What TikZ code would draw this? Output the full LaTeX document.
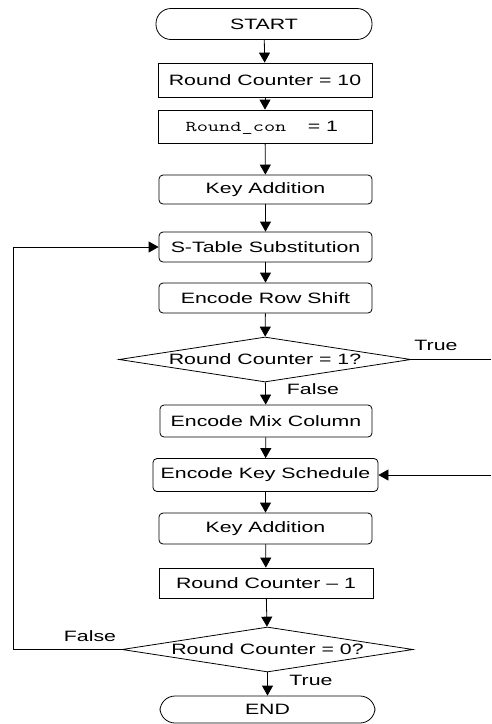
\documentclass[tikz,border=0pt]{standalone}
\usepackage{fontspec}
\setmainfont[FakeStretch=1.42]{Liberation Sans}
\usetikzlibrary{arrows.meta,shapes.geometric}

\tikzset{
  term/.style={draw, rounded corners=15pt, minimum width=216pt, minimum height=31pt},
  proc/.style={draw, minimum width=214pt, minimum height=31pt},
  procr/.style={draw, rounded corners=4pt, minimum width=213pt, minimum height=30pt},
  decis/.style={draw, diamond, aspect=6.5, inner sep=-1pt, minimum width=292pt, minimum height=45pt},
  codetext/.style={inner sep=0pt, xscale=1.45, transform shape, font=\ttfamily\fontsize{15}{18}\selectfont},
}

\begin{document}
\begin{tikzpicture}[x=1pt, y=-1pt, line width=0.8pt,
  every node/.style={font=\fontsize{15}{18}\selectfont, line width=0.8pt},
  >={Triangle[length=10pt, width=11pt]}]
	\useasboundingbox (0,0) rectangle (491,724);
	\node[term] (start) at (264,24) {START};
	\node[proc, minimum height=34pt] (rc10) at (265,80) {Round Counter = 10};
	\node[proc, minimum height=33pt] (rcon) at (265,126.5) {};
	\node[codetext, anchor=base] (rconname) at (236,131) {Round\_con};
	\node[anchor=base, inner sep=0pt] (rconval) at (323,131) {= 1};
	\node[procr, minimum height=29pt] (keyadd1) at (265.5,189.5) {Key Addition};
	\node[procr] (stab) at (265.5,247) {S-Table Substitution};
	\node[procr] (rowsh) at (265.5,298) {Encode Row Shift};
	\node[decis] (dec1) at (265,359.5) {Round Counter = 1?};
	\node[procr, minimum width=212pt, minimum height=32pt] (mixcol) at (266,421) {Encode Mix Column};
	\node[procr, minimum width=225pt, minimum height=33pt, inner xsep=1pt] (keysch) at (265.5,475) {Encode Key Schedule};
	\node[procr, minimum height=31pt] (keyadd2) at (265.5,528.5) {Key Addition};
	\node[proc, minimum height=30pt] (rcm1) at (266,583) {Round Counter -- 1};
	\node[decis, minimum width=291pt] (dec2) at (267.5,649.5) {Round Counter = 0?};
	\node[term, minimum width=215pt, minimum height=27pt] (end) at (267.5,709.5) {END};
	% arrows down the main flow
	\draw[->] (start) -- (rc10);
	\draw[->] (rc10) -- (rcon);
	\draw[->] (rcon) -- (keyadd1);
	\draw[->] (keyadd1) -- (stab);
	\draw[->] (stab) -- (rowsh);
	\draw[->] (rowsh) -- (dec1);
	\draw[->] (dec1) -- (mixcol);
	\draw[->] (mixcol) -- (keysch);
	\draw[->] (keysch) -- (keyadd2);
	\draw[->] (keyadd2) -- (rcm1);
	\draw[->] (rcm1) -- (dec2);
	\draw[->] (dec2) -- (end);
	% branches
	\coordinate (out1) at (491,359.5);
	\coordinate (in1) at (491,475);
	\coordinate (loopb) at (13,649.5);
	\coordinate (loopt) at (13,247);
	\draw (dec1.east) -- (out1);
	\draw[->] (in1) -- (keysch.east);
	\draw[->] (dec2.west) -- (loopb) -- (loopt) -- (stab.west);
	\node at (436,345) {True};
	\node at (313,389) {False};
	\node at (90,636) {False};
	\node at (311,680) {True};
\end{tikzpicture}
\end{document}
